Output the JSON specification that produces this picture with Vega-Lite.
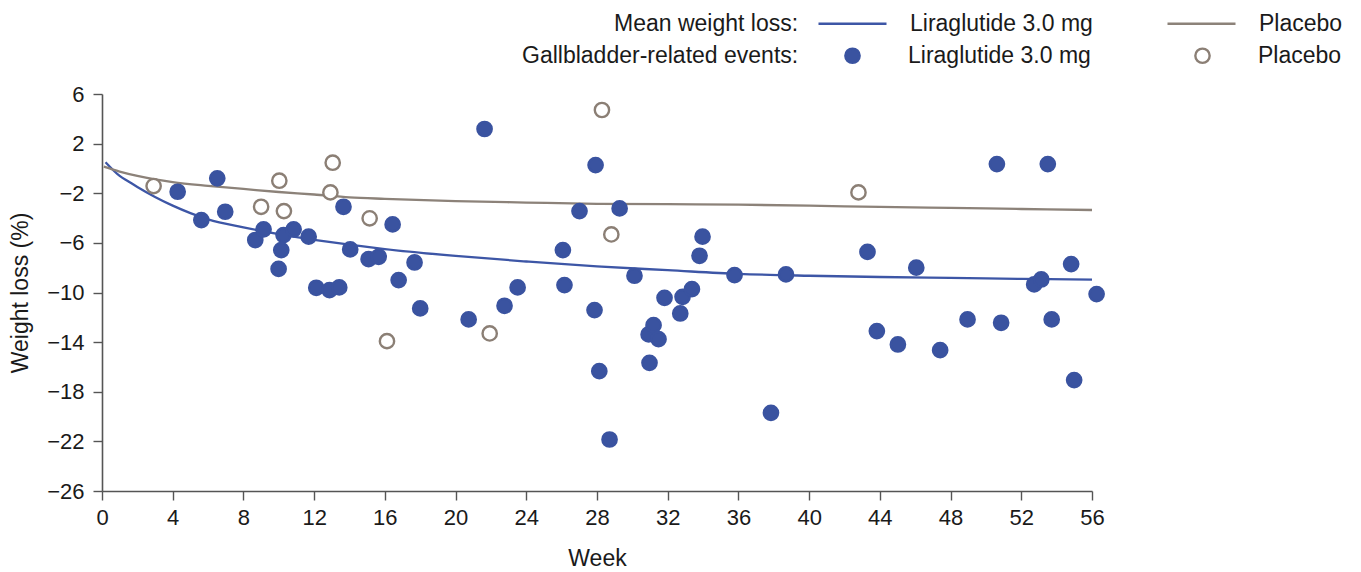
{
  "$schema": "https://vega.github.io/schema/vega-lite/v6.json",
  "width": 990,
  "height": 397,
  "autosize": {"type": "none"},
  "padding": {"left": 102, "top": 94, "right": 269, "bottom": 81},
  "background": "white",
  "config": {
    "font": "Liberation Sans, Arial, sans-serif",
    "view": {"stroke": null}
  },
  "resolve": {"scale": {"stroke": "independent", "fill": "independent"}},
  "datasets": {
    "means": [
      {"week": 0.2, "value": 0.5, "series": "Liraglutide 3.0 mg"},
      {"week": 1, "value": -0.6, "series": "Liraglutide 3.0 mg"},
      {"week": 1.5, "value": -1.05, "series": "Liraglutide 3.0 mg"},
      {"week": 2, "value": -1.5, "series": "Liraglutide 3.0 mg"},
      {"week": 3, "value": -2.3, "series": "Liraglutide 3.0 mg"},
      {"week": 4, "value": -3.0, "series": "Liraglutide 3.0 mg"},
      {"week": 5, "value": -3.6, "series": "Liraglutide 3.0 mg"},
      {"week": 6, "value": -4.1, "series": "Liraglutide 3.0 mg"},
      {"week": 8, "value": -4.75, "series": "Liraglutide 3.0 mg"},
      {"week": 10, "value": -5.3, "series": "Liraglutide 3.0 mg"},
      {"week": 12, "value": -5.75, "series": "Liraglutide 3.0 mg"},
      {"week": 14, "value": -6.15, "series": "Liraglutide 3.0 mg"},
      {"week": 16, "value": -6.5, "series": "Liraglutide 3.0 mg"},
      {"week": 20, "value": -7.05, "series": "Liraglutide 3.0 mg"},
      {"week": 24, "value": -7.5, "series": "Liraglutide 3.0 mg"},
      {"week": 28, "value": -7.9, "series": "Liraglutide 3.0 mg"},
      {"week": 32, "value": -8.2, "series": "Liraglutide 3.0 mg"},
      {"week": 36, "value": -8.5, "series": "Liraglutide 3.0 mg"},
      {"week": 40, "value": -8.65, "series": "Liraglutide 3.0 mg"},
      {"week": 44, "value": -8.75, "series": "Liraglutide 3.0 mg"},
      {"week": 48, "value": -8.82, "series": "Liraglutide 3.0 mg"},
      {"week": 52, "value": -8.9, "series": "Liraglutide 3.0 mg"},
      {"week": 56, "value": -8.97, "series": "Liraglutide 3.0 mg"},
      {"week": 0.1, "value": 0.15, "series": "Placebo"},
      {"week": 1, "value": -0.25, "series": "Placebo"},
      {"week": 2, "value": -0.6, "series": "Placebo"},
      {"week": 3, "value": -0.88, "series": "Placebo"},
      {"week": 4, "value": -1.1, "series": "Placebo"},
      {"week": 6, "value": -1.4, "series": "Placebo"},
      {"week": 8, "value": -1.65, "series": "Placebo"},
      {"week": 10, "value": -1.9, "series": "Placebo"},
      {"week": 12, "value": -2.1, "series": "Placebo"},
      {"week": 14, "value": -2.33, "series": "Placebo"},
      {"week": 16, "value": -2.45, "series": "Placebo"},
      {"week": 20, "value": -2.63, "series": "Placebo"},
      {"week": 24, "value": -2.75, "series": "Placebo"},
      {"week": 28, "value": -2.85, "series": "Placebo"},
      {"week": 32, "value": -2.88, "series": "Placebo"},
      {"week": 36, "value": -2.92, "series": "Placebo"},
      {"week": 40, "value": -3.0, "series": "Placebo"},
      {"week": 44, "value": -3.1, "series": "Placebo"},
      {"week": 48, "value": -3.18, "series": "Placebo"},
      {"week": 52, "value": -3.27, "series": "Placebo"},
      {"week": 56, "value": -3.35, "series": "Placebo"}
    ],
    "events": [
      {"week": 2.92, "value": -1.42, "group": "Placebo"},
      {"week": 9.0, "value": -3.09, "group": "Placebo"},
      {"week": 10.03, "value": -0.99, "group": "Placebo"},
      {"week": 10.29, "value": -3.44, "group": "Placebo"},
      {"week": 12.92, "value": -1.93, "group": "Placebo"},
      {"week": 13.05, "value": 0.46, "group": "Placebo"},
      {"week": 15.14, "value": -4.02, "group": "Placebo"},
      {"week": 16.12, "value": -13.92, "group": "Placebo"},
      {"week": 21.93, "value": -13.3, "group": "Placebo"},
      {"week": 28.28, "value": 4.71, "group": "Placebo"},
      {"week": 28.81, "value": -5.32, "group": "Placebo"},
      {"week": 42.79, "value": -1.93, "group": "Placebo"},
      {"week": 4.28, "value": -1.88, "group": "Liraglutide 3.0 mg"},
      {"week": 6.52, "value": -0.8, "group": "Liraglutide 3.0 mg"},
      {"week": 5.62, "value": -4.16, "group": "Liraglutide 3.0 mg"},
      {"week": 6.97, "value": -3.49, "group": "Liraglutide 3.0 mg"},
      {"week": 8.67, "value": -5.77, "group": "Liraglutide 3.0 mg"},
      {"week": 9.14, "value": -4.91, "group": "Liraglutide 3.0 mg"},
      {"week": 10.27, "value": -5.37, "group": "Liraglutide 3.0 mg"},
      {"week": 10.14, "value": -6.58, "group": "Liraglutide 3.0 mg"},
      {"week": 9.99, "value": -8.1, "group": "Liraglutide 3.0 mg"},
      {"week": 10.84, "value": -4.91, "group": "Liraglutide 3.0 mg"},
      {"week": 11.69, "value": -5.5, "group": "Liraglutide 3.0 mg"},
      {"week": 12.12, "value": -9.62, "group": "Liraglutide 3.0 mg"},
      {"week": 12.87, "value": -9.81, "group": "Liraglutide 3.0 mg"},
      {"week": 13.42, "value": -9.59, "group": "Liraglutide 3.0 mg"},
      {"week": 13.66, "value": -3.09, "group": "Liraglutide 3.0 mg"},
      {"week": 14.04, "value": -6.53, "group": "Liraglutide 3.0 mg"},
      {"week": 15.08, "value": -7.31, "group": "Liraglutide 3.0 mg"},
      {"week": 15.65, "value": -7.12, "group": "Liraglutide 3.0 mg"},
      {"week": 16.44, "value": -4.51, "group": "Liraglutide 3.0 mg"},
      {"week": 16.78, "value": -9.0, "group": "Liraglutide 3.0 mg"},
      {"week": 17.68, "value": -7.58, "group": "Liraglutide 3.0 mg"},
      {"week": 18.0, "value": -11.28, "group": "Liraglutide 3.0 mg"},
      {"week": 20.74, "value": -12.17, "group": "Liraglutide 3.0 mg"},
      {"week": 21.64, "value": 3.18, "group": "Liraglutide 3.0 mg"},
      {"week": 22.77, "value": -11.07, "group": "Liraglutide 3.0 mg"},
      {"week": 23.51, "value": -9.59, "group": "Liraglutide 3.0 mg"},
      {"week": 26.07, "value": -6.58, "group": "Liraglutide 3.0 mg"},
      {"week": 26.16, "value": -9.4, "group": "Liraglutide 3.0 mg"},
      {"week": 27.01, "value": -3.44, "group": "Liraglutide 3.0 mg"},
      {"week": 27.92, "value": 0.27, "group": "Liraglutide 3.0 mg"},
      {"week": 27.86, "value": -11.42, "group": "Liraglutide 3.0 mg"},
      {"week": 28.13, "value": -16.34, "group": "Liraglutide 3.0 mg"},
      {"week": 28.71, "value": -21.85, "group": "Liraglutide 3.0 mg"},
      {"week": 29.28, "value": -3.22, "group": "Liraglutide 3.0 mg"},
      {"week": 30.12, "value": -8.65, "group": "Liraglutide 3.0 mg"},
      {"week": 30.92, "value": -13.38, "group": "Liraglutide 3.0 mg"},
      {"week": 30.97, "value": -15.67, "group": "Liraglutide 3.0 mg"},
      {"week": 31.2, "value": -12.63, "group": "Liraglutide 3.0 mg"},
      {"week": 31.48, "value": -13.76, "group": "Liraglutide 3.0 mg"},
      {"week": 31.82, "value": -10.43, "group": "Liraglutide 3.0 mg"},
      {"week": 32.71, "value": -11.69, "group": "Liraglutide 3.0 mg"},
      {"week": 32.84, "value": -10.35, "group": "Liraglutide 3.0 mg"},
      {"week": 33.37, "value": -9.73, "group": "Liraglutide 3.0 mg"},
      {"week": 33.8, "value": -7.04, "group": "Liraglutide 3.0 mg"},
      {"week": 33.97, "value": -5.5, "group": "Liraglutide 3.0 mg"},
      {"week": 35.78, "value": -8.6, "group": "Liraglutide 3.0 mg"},
      {"week": 37.84, "value": -19.7, "group": "Liraglutide 3.0 mg"},
      {"week": 38.69, "value": -8.54, "group": "Liraglutide 3.0 mg"},
      {"week": 43.3, "value": -6.72, "group": "Liraglutide 3.0 mg"},
      {"week": 43.83, "value": -13.11, "group": "Liraglutide 3.0 mg"},
      {"week": 45.02, "value": -14.19, "group": "Liraglutide 3.0 mg"},
      {"week": 46.06, "value": -8.0, "group": "Liraglutide 3.0 mg"},
      {"week": 47.41, "value": -14.65, "group": "Liraglutide 3.0 mg"},
      {"week": 48.96, "value": -12.17, "group": "Liraglutide 3.0 mg"},
      {"week": 50.62, "value": 0.35, "group": "Liraglutide 3.0 mg"},
      {"week": 50.86, "value": -12.44, "group": "Liraglutide 3.0 mg"},
      {"week": 52.73, "value": -9.35, "group": "Liraglutide 3.0 mg"},
      {"week": 53.13, "value": -8.95, "group": "Liraglutide 3.0 mg"},
      {"week": 53.5, "value": 0.35, "group": "Liraglutide 3.0 mg"},
      {"week": 53.72, "value": -12.17, "group": "Liraglutide 3.0 mg"},
      {"week": 54.82, "value": -7.71, "group": "Liraglutide 3.0 mg"},
      {"week": 54.99, "value": -17.06, "group": "Liraglutide 3.0 mg"},
      {"week": 56.26, "value": -10.13, "group": "Liraglutide 3.0 mg"}
    ]
  },
  "encoding": {
    "x": {
      "field": "week",
      "type": "quantitative",
      "scale": {"domain": [0, 56], "nice": false, "zero": false},
      "axis": {
        "title": "Week",
        "values": [0, 4, 8, 12, 16, 20, 24, 28, 32, 36, 40, 44, 48, 52, 56],
        "grid": false,
        "domainColor": "#555555",
        "domainWidth": 1.6,
        "tickColor": "#555555",
        "tickWidth": 1.4,
        "tickSize": 9,
        "labelFontSize": 22,
        "labelColor": "#1a1a1a",
        "labelPadding": 7,
        "labelFlush": false,
        "titleFontSize": 23,
        "titleFontWeight": "normal",
        "titleColor": "#1a1a1a",
        "titlePadding": 19
      }
    },
    "y": {
      "field": "value",
      "type": "quantitative",
      "scale": {"domain": [-26, 6], "nice": false, "zero": false},
      "axis": {
        "title": "Weight loss (%)",
        "values": [-26, -22, -18, -14, -10, -6, -2, 2, 6],
        "grid": false,
        "domainColor": "#555555",
        "domainWidth": 1.6,
        "tickColor": "#555555",
        "tickWidth": 1.4,
        "tickSize": 9,
        "labelFontSize": 22,
        "labelColor": "#1a1a1a",
        "labelPadding": 9,
        "labelFlush": false,
        "titleFontSize": 23,
        "titleFontWeight": "normal",
        "titleColor": "#1a1a1a",
        "titlePadding": 14
      }
    }
  },
  "layer": [
    {
      "data": {"name": "means"},
      "mark": {"type": "line", "interpolate": "monotone", "strokeWidth": 2.3},
      "encoding": {
        "stroke": {
          "field": "series",
          "type": "nominal",
          "scale": {"domain": ["Liraglutide 3.0 mg", "Placebo"], "range": ["#3d56a6", "#8c8279"]},
          "legend": {
            "title": "Mean weight loss:",
            "orient": "none",
            "legendX": 512,
            "legendY": -106,
            "direction": "horizontal",
            "titleOrient": "left",
            "titleFontSize": 23,
            "titleFontWeight": "normal",
            "titleColor": "#1a1a1a",
            "titlePadding": 18,
            "titleBaseline": "middle",
            "titleAnchor": "middle",
            "titleLimit": 400,
            "labelFontSize": 23,
            "labelColor": "#1a1a1a",
            "labelOffset": 22,
            "labelLimit": 400,
            "symbolType": "stroke",
            "symbolSize": 4624,
            "symbolStrokeWidth": 2.6,
            "columnPadding": 69,
            "encode": {"title": {"update": {"dy": {"value": 12}}}}
          }
        }
      }
    },
    {
      "data": {"name": "events"},
      "mark": {"type": "point", "shape": "circle", "filled": true, "opacity": 1, "size": 205, "strokeWidth": 2.4},
      "encoding": {
        "fill": {
          "field": "group",
          "type": "nominal",
          "scale": {"domain": ["Placebo", "Liraglutide 3.0 mg"], "range": ["#ffffff", "#3a53a0"]},
          "legend": {
            "title": "Gallbladder-related events:",
            "values": ["Liraglutide 3.0 mg", "Placebo"],
            "orient": "none",
            "legendX": 420,
            "legendY": -50,
            "direction": "horizontal",
            "titleOrient": "left",
            "titleFontSize": 23,
            "titleFontWeight": "normal",
            "titleColor": "#1a1a1a",
            "titlePadding": 42,
            "titleBaseline": "middle",
            "titleAnchor": "middle",
            "titleLimit": 400,
            "labelFontSize": 23,
            "labelColor": "#1a1a1a",
            "labelOffset": 44,
            "labelLimit": 400,
            "symbolType": "circle",
            "symbolSize": 205,
            "symbolStrokeWidth": 2.4,
            "columnPadding": 99
          }
        },
        "stroke": {
          "field": "group",
          "type": "nominal",
          "scale": {"domain": ["Placebo", "Liraglutide 3.0 mg"], "range": ["#8b7f75", "#3a53a0"]},
          "legend": {
            "title": "Gallbladder-related events:",
            "values": ["Liraglutide 3.0 mg", "Placebo"],
            "orient": "none",
            "legendX": 420,
            "legendY": -50,
            "direction": "horizontal",
            "titleOrient": "left",
            "titleFontSize": 23,
            "titleFontWeight": "normal",
            "titleColor": "#1a1a1a",
            "titlePadding": 42,
            "titleBaseline": "middle",
            "titleAnchor": "middle",
            "titleLimit": 400,
            "labelFontSize": 23,
            "labelColor": "#1a1a1a",
            "labelOffset": 44,
            "labelLimit": 400,
            "symbolType": "circle",
            "symbolSize": 205,
            "symbolStrokeWidth": 2.4,
            "columnPadding": 99
          }
        }
      }
    }
  ]
}
